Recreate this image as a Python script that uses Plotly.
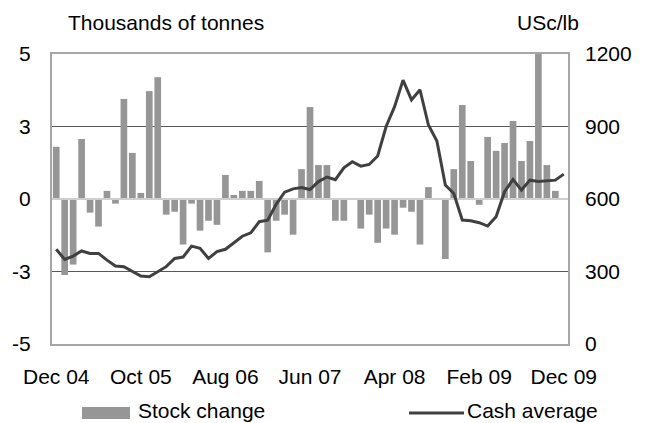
import plotly.graph_objects as go
import pandas as pd

# ---- data ----
months = [d.strftime("%b %y") for d in pd.date_range("2004-12-01", "2009-12-01", freq="MS")]

stock_change = [
    1.80, -2.62, -2.26, 2.07, -0.47, -0.95, 0.28, -0.16, 3.45, 1.59,
    0.21, 3.72, 4.20, -0.54, -0.44, -1.57, -0.16, -1.09, -0.75, -0.89,
    0.83, 0.14, 0.28, 0.28, 0.62, -1.84, -0.75, -0.54, -1.23, 1.03,
    3.17, 1.17, 1.17, -0.75, -0.75, 0.00, -1.02, -0.54, -1.51, -1.02,
    -1.23, -0.30, -0.44, -1.57, 0.41, 0.00, -2.07, 1.03, 3.24, 1.31,
    -0.20, 2.14, 1.66, 1.93, 2.69, 1.31, 2.00, 5.00, 1.17, 0.28,
    0.00,
]

cash_average = [
    392, 350, 364, 385, 375, 375, 347, 323, 320, 299,
    281, 278, 299, 320, 354, 360, 405, 396, 354, 382,
    392, 419, 446, 460, 506, 512, 578, 628, 642, 647,
    639, 672, 691, 680, 729, 754, 736, 743, 778, 900,
    982, 1092, 1010, 1052, 906, 840, 658, 623, 513, 510,
    502, 488, 527, 630, 681, 637, 678, 672, 676, 678,
    703,
]

label_every = 10
tick_idx = list(range(0, len(months), label_every))
tick_labels = [months[i] for i in tick_idx]

left_ticks = [-5, -2.5, 0, 2.5, 5]
left_tick_text = ["-5", "-3", "0", "3", "5"]
right_ticks = [0, 300, 600, 900, 1200]

x_idx = list(range(len(months)))

FONT = "Liberation Sans, Arial, sans-serif"
FS = 21
BAR_COLOR = "#969696"
LINE_COLOR = "#404040"
FRAME_COLOR = "#a6a6a6"

fig = go.Figure()
fig.add_trace(go.Bar(x=x_idx, y=stock_change, name="Stock change",
                     marker=dict(color=BAR_COLOR, line=dict(width=0)),
                     showlegend=False))
# horizontal category axis line at zero (drawn over bars)
fig.add_trace(go.Scatter(x=[-0.5, len(months) - 0.5], y=[0, 0], mode="lines",
                         line=dict(color="#cfcfcf", width=2),
                         hoverinfo="skip", showlegend=False))
fig.add_trace(go.Scatter(x=x_idx, y=cash_average, name="Cash average",
                         mode="lines", yaxis="y2",
                         line=dict(color=LINE_COLOR, width=3),
                         showlegend=False))

W, H = 647, 423
L, R, T, B = 52, 79, 54, 79
pw, ph = W - L - R, H - T - B

def px(xp):
    return (xp - L) / pw

def py(yp):
    return (H - B - yp) / ph

fig.update_layout(
    width=W, height=H,
    margin=dict(l=L, r=R, t=T, b=B, pad=0, autoexpand=False),
    paper_bgcolor="white", plot_bgcolor="white",
    font=dict(family=FONT, size=FS, color="black"),
    bargap=0.21,
    showlegend=False,
    xaxis=dict(
        range=[-0.5, len(months) - 0.5],
        tickmode="array", tickvals=tick_idx, ticktext=tick_labels,
        showgrid=False, zeroline=False,
        showline=True, mirror=True, linecolor=FRAME_COLOR, linewidth=2,
        ticks="", ticklabelstandoff=13, automargin=False,
        tickfont=dict(family=FONT, size=FS, color="black"),
    ),
    yaxis=dict(
        range=[-5, 5],
        tickmode="array", tickvals=left_ticks, ticktext=left_tick_text,
        showgrid=True, gridcolor="#595959", gridwidth=1,
        zeroline=False,
        showline=True, mirror=True, linecolor=FRAME_COLOR, linewidth=2,
        ticks="", ticklabelstandoff=15, automargin=False,
        tickfont=dict(family=FONT, size=FS, color="black"),
    ),
    yaxis2=dict(
        range=[0, 1200], overlaying="y", side="right",
        tickmode="array", tickvals=right_ticks,
        showgrid=False, zeroline=False, showline=False,
        ticks="", ticklabelstandoff=16, automargin=False,
        tickfont=dict(family=FONT, size=FS, color="black"),
    ),
)

# axis titles
fig.add_annotation(text="Thousands of tonnes", xref="paper", yref="paper",
                   x=px(66), y=py(22), xanchor="left", yanchor="middle",
                   showarrow=False, font=dict(family=FONT, size=FS, color="black"))
fig.add_annotation(text="USc/lb", xref="paper", yref="paper",
                   x=px(581), y=py(22), xanchor="right", yanchor="middle",
                   showarrow=False, font=dict(family=FONT, size=FS, color="black"))

# legend (drawn manually to match swatch sizes)
fig.add_shape(type="rect", xref="paper", yref="paper",
              x0=px(82), x1=px(130), y0=py(407), y1=py(419),
              fillcolor=BAR_COLOR, line=dict(width=0))
fig.add_annotation(text="Stock change", xref="paper", yref="paper",
                   x=px(136), y=py(410), xanchor="left", yanchor="middle",
                   showarrow=False, font=dict(family=FONT, size=FS, color="black"))
fig.add_shape(type="line", xref="paper", yref="paper",
              x0=px(409), x1=px(464), y0=py(413), y1=py(413),
              line=dict(color=LINE_COLOR, width=3))
fig.add_annotation(text="Cash average", xref="paper", yref="paper",
                   x=px(465), y=py(410), xanchor="left", yanchor="middle",
                   showarrow=False, font=dict(family=FONT, size=FS, color="black"))

fig.write_html(
    "out.html",
    config={"displayModeBar": False},
    post_script="document.body.style.margin='0';document.body.style.overflow='hidden';",
)
